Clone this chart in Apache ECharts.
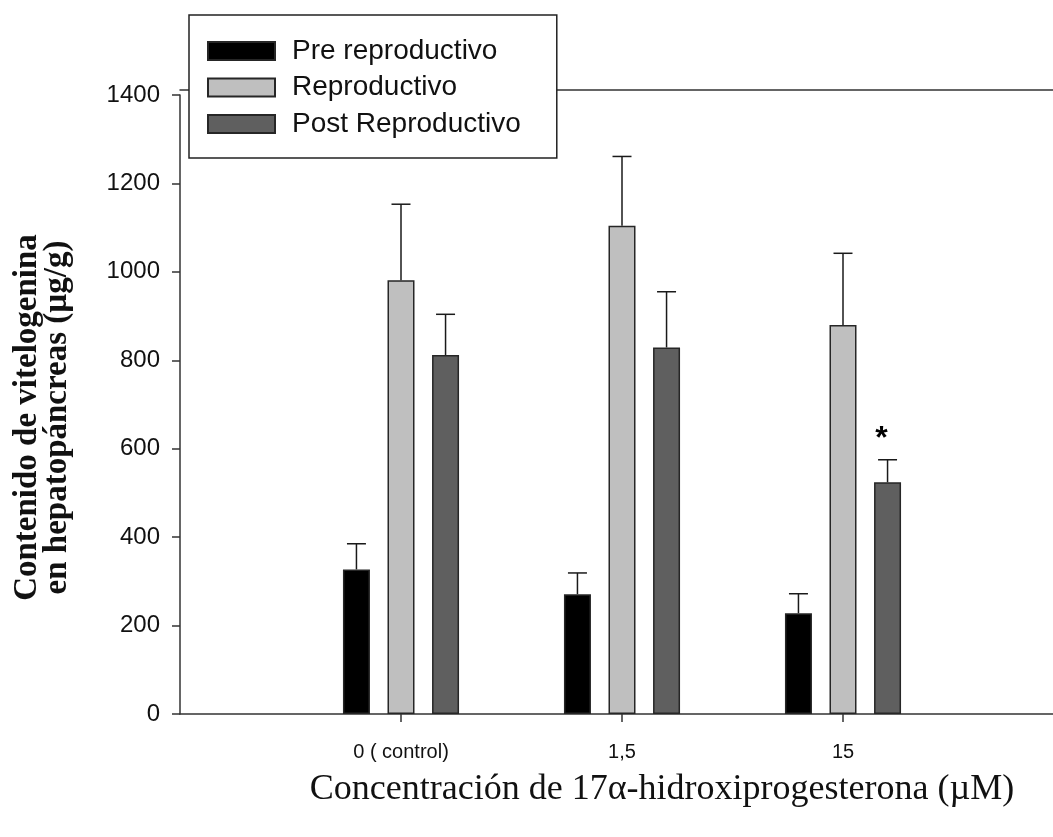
<!DOCTYPE html>
<html>
<head>
<meta charset="utf-8">
<script src="https://cdn.jsdelivr.net/npm/echarts@6/dist/echarts.min.js"></script>
<style>
  html, body { margin: 0; padding: 0; background: #fff; }
  #chart { width: 1053px; height: 837px; }
</style>
</head>
<body>
<div id="chart"></div>
<script>
// Vitellogenin content in hepatopancreas by stage and 17α-hydroxyprogesterone dose
const categories = ['0 ( control)', '1,5', '15'];
const seriesNames = ['Pre reproductivo', 'Reproductivo', 'Post Reproductivo'];

const preReproductivo = [327, 271, 228];
const preReproductivoSE = [58, 48, 44];
const reproductivo = [981, 1104, 880];
const reproductivoSE = [172, 157, 162];
const postReproductivo = [812, 829, 524];
const postReproductivoSE = [92, 126, 51];
const postMarks = ['', '', '*'];

const yTicks = [0, 200, 400, 600, 800, 1000, 1200, 1400];

// Empty slots on both ends give the same spacing as the original axis
const axisData = [''].concat(categories, [' ']);
const pad = arr => ['-'].concat(arr, ['-']);

const BAR_W = 27;
const BAR_GAP = 0.65;
const fills = ['#000000', '#bfbfbf', '#5f5f5f'];
const values = [preReproductivo, reproductivo, postReproductivo];
const errors = [preReproductivoSE, reproductivoSE, postReproductivoSE];
const marks = [['', '', ''], ['', '', ''], postMarks];

const chart = echarts.init(document.getElementById('chart'), null, { renderer: 'canvas' });

const bars = values.map((vals, i) => ({
  name: seriesNames[i],
  type: 'bar',
  data: pad(vals),
  barWidth: BAR_W,
  barGap: (BAR_GAP * 100) + '%',
  itemStyle: { color: fills[i], borderColor: '#262626', borderWidth: 1.5 },
  emphasis: { disabled: true },
  z: 2
}));

const errorBars = values.map((vals, i) => ({
  type: 'custom',
  silent: true,
  z: 3,
  data: vals.map((v, k) => [k + 1, v, errors[i][k]]),
  encode: { x: 0, y: 1 },
  renderItem: (params, api) => {
    const x = api.value(0), v = api.value(1), se = api.value(2);
    const shift = (i - 1) * BAR_W * (1 + BAR_GAP);
    const base = api.coord([x, v]);
    const top = api.coord([x, v + se]);
    const cx = base[0] + shift;
    const children = [
      { type: 'line', shape: { x1: cx, y1: base[1], x2: cx, y2: top[1] },
        style: { stroke: '#1a1a1a', lineWidth: 1.5 } },
      { type: 'line', shape: { x1: cx - 9.5, y1: top[1], x2: cx + 9.5, y2: top[1] },
        style: { stroke: '#1a1a1a', lineWidth: 1.5 } }
    ];
    const m = marks[i][params.dataIndex];
    if (m) {
      children.push({ type: 'text', style: {
        x: cx - 6, y: top[1] - 21, text: m, align: 'center', verticalAlign: 'middle',
        font: 'bold 32px "Liberation Sans", Arial, sans-serif', fill: '#000' } });
    }
    return { type: 'group', children };
  }
}));

chart.setOption({
  animation: false,
  backgroundColor: '#ffffff',
  grid: { left: 180, width: 884, top: 95, bottom: 123, containLabel: false, outerBoundsMode: 'none' },
  legend: {
    data: seriesNames,
    orient: 'vertical',
    left: 189,
    top: 15,
    itemWidth: 67,
    itemHeight: 18,
    itemGap: 8.5,
    padding: [22, 36, 20, 18],
    backgroundColor: '#ffffff',
    borderColor: '#222',
    borderWidth: 1.5,
    icon: 'rect',
    selectedMode: false,
    textStyle: { fontFamily: '"Liberation Sans", Arial, sans-serif', fontSize: 28, color: '#111', padding: [0, 0, 0, 12] },
    z: 10
  },
  xAxis: [{
    type: 'category',
    data: axisData,
    boundaryGap: false,
    axisLine: { lineStyle: { color: '#333', width: 1.5 } },
    axisTick: { length: 8, lineStyle: { color: '#333', width: 1.5 },
      interval: (idx, val) => val.trim() !== '' },
    axisLabel: { fontFamily: '"Liberation Sans", Arial, sans-serif', fontSize: 20, color: '#111', margin: 28,
      interval: 0 },
    name: 'Concentración de 17α-hidroxiprogesterona (µM)',
    nameLocation: 'middle',
    nameGap: 58,
    nameTextStyle: { fontFamily: '"Liberation Serif", "Times New Roman", serif', fontSize: 36, color: '#111',
      padding: [0, 0, 0, 80] },
    splitLine: { show: false }
  }, {
    type: 'category',
    data: axisData,
    boundaryGap: false,
    position: 'top',
    offset: 5,
    axisLine: { lineStyle: { color: '#333', width: 1.5 } },
    axisTick: { show: false },
    axisLabel: { show: false },
    splitLine: { show: false }
  }],
  yAxis: {
    type: 'value',
    min: 0,
    max: 1400,
    interval: 200,
    axisLine: { show: true, lineStyle: { color: '#333', width: 1.5 } },
    axisTick: { show: true, length: 8, lineStyle: { color: '#333', width: 1.5 } },
    axisLabel: { fontFamily: '"Liberation Sans", Arial, sans-serif', fontSize: 24, color: '#111', margin: 20,
      formatter: v => (yTicks.indexOf(v) >= 0 ? String(v) : '') },
    splitLine: { show: false },
    name: 'Contenido de vitelogenina\nen hepatopáncreas (µg/g)',
    nameLocation: 'middle',
    nameGap: 108,
    nameRotate: 90,
    nameTextStyle: { fontFamily: '"Liberation Serif", "Times New Roman", serif', fontWeight: 'bold', fontSize: 33,
      color: '#111', lineHeight: 30, padding: [0, 26, 0, 0] }
  },
  series: bars.concat(errorBars)
});
</script>
</body>
</html>
